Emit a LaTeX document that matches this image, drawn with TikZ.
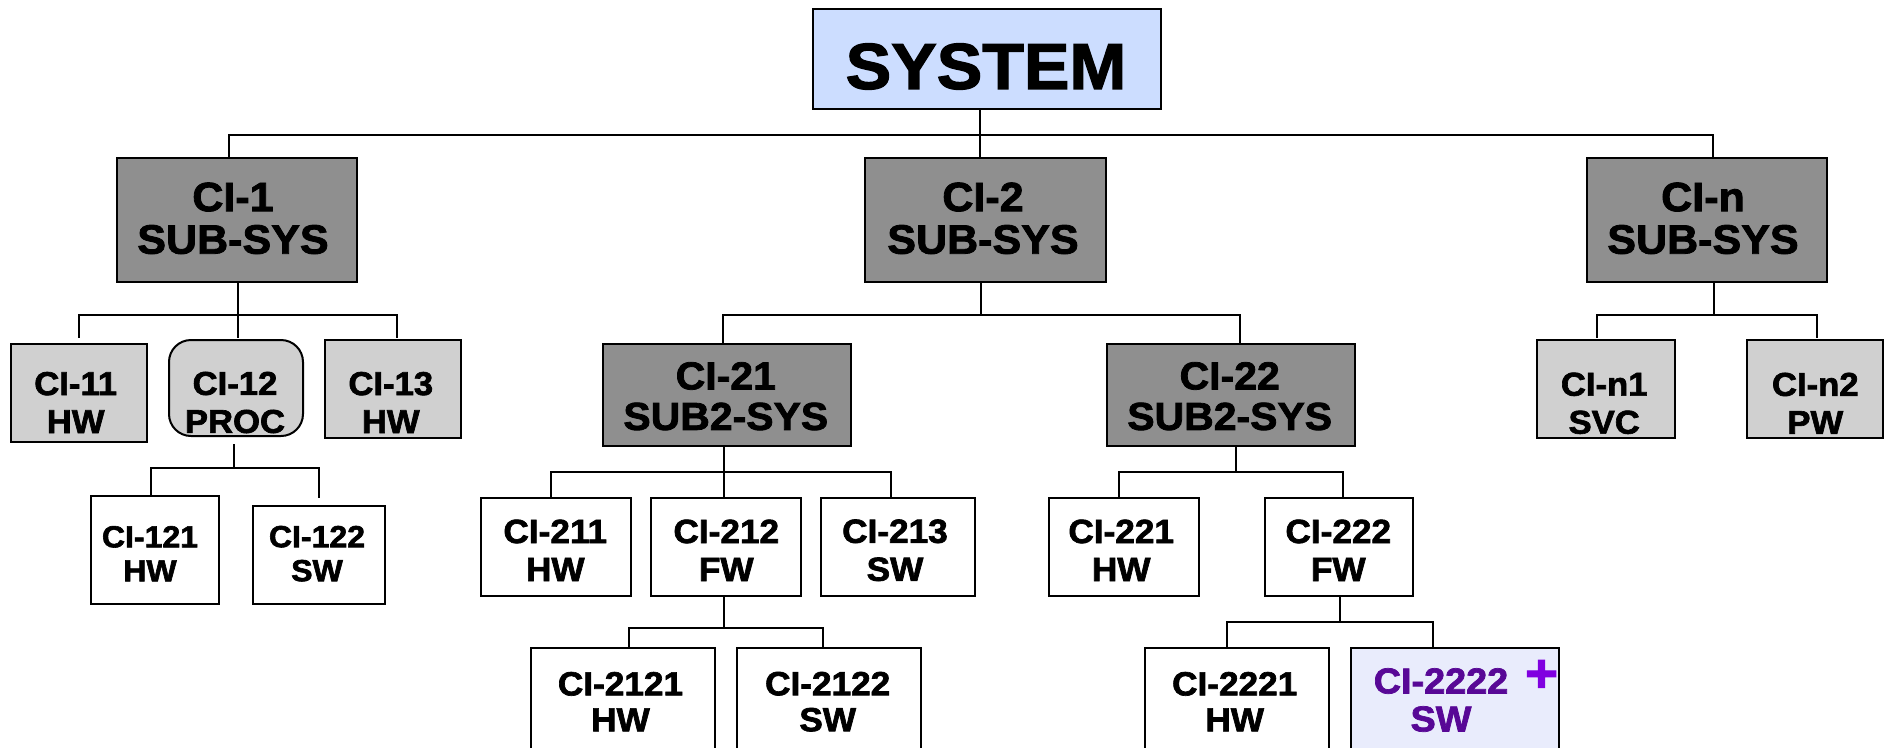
\documentclass[tikz,border=0pt]{standalone}
\usepackage{fontspec}
\setmainfont{Liberation Sans}[FakeStretch=1.05, BoldFeatures={FakeBold=2}]
\usetikzlibrary{calc}
\definecolor{sysblue}{RGB}{204,221,255}
\definecolor{darkbox}{RGB}{143,143,143}
\definecolor{lightbox}{RGB}{208,208,208}
\definecolor{lavbox}{RGB}{233,236,252}
\definecolor{purtext}{RGB}{88,8,150}
\definecolor{plusviolet}{RGB}{128,0,224}
\newcommand{\fSys}{\bfseries\fontsize{65}{70}\selectfont}
\newcommand{\fSub}{\bfseries\fontsize{41}{42.5}\selectfont}
\newcommand{\fSubT}{\bfseries\fontsize{39}{40.5}\selectfont}
\newcommand{\fLtwo}{\bfseries\fontsize{33}{38}\selectfont}
\newcommand{\fLthreeA}{\bfseries\fontsize{30.5}{34}\selectfont}
\newcommand{\fLthree}{\bfseries\fontsize{33.5}{38}\selectfont}
\newcommand{\fLfour}{\bfseries\fontsize{33.5}{36}\selectfont}
\newcommand{\fLfourP}{\bfseries\fontsize{36}{38}\selectfont}
\begin{document}
\begin{tikzpicture}[x=1pt,y=-1pt,
  box/.style={draw=black, line width=2pt, inner sep=0pt, outer sep=0pt, rectangle},
  sysbox/.style={box, fill=sysblue},
  darkb/.style={box, fill=darkbox},
  lightb/.style={box, fill=lightbox},
  whiteb/.style={box, fill=white},
  txt/.style={inner sep=0pt, outer sep=0pt, align=center, text=black},
  conn/.style={draw=black, line width=2pt}
]
\useasboundingbox (0,0) rectangle (1889,747);
\fill[white] (0,0) rectangle (1889,747);
\clip (0,0) rectangle (1889,747);

% ---- boxes ----
\node[sysbox, minimum width=348pt, minimum height=100pt] (sys) at (986.8,59.3) {};
\node[darkb, minimum width=240pt, minimum height=124pt] (ci1) at (236.8,219.7) {};
\node[darkb, minimum width=241pt, minimum height=124pt] (ci2) at (985.7,219.8) {};
\node[darkb, minimum width=240pt, minimum height=124pt] (cin) at (1706.8,219.8) {};

\node[lightb, minimum width=136pt, minimum height=98pt] (ci11) at (79,393) {};
\node[lightb, rounded corners=22pt, minimum width=134pt, minimum height=96pt] (ci12) at (236,388) {};
\node[lightb, minimum width=136pt, minimum height=97.5pt] (ci13) at (393.2,388.8) {};

\node[whiteb, minimum width=128pt, minimum height=108.5pt] (ci121) at (154.8,550) {};
\node[whiteb, minimum width=132.5pt, minimum height=98.5pt] (ci122) at (319,555) {};

\node[darkb, minimum width=248pt, minimum height=102pt] (ci21) at (726.8,395) {};
\node[darkb, minimum width=248pt, minimum height=102pt] (ci22) at (1230.8,395) {};

\node[whiteb, minimum width=150.5pt, minimum height=98.3pt] (ci211) at (556,546.8) {};
\node[whiteb, minimum width=150.5pt, minimum height=98.3pt] (ci212) at (726,546.8) {};
\node[whiteb, minimum width=153.5pt, minimum height=98.3pt] (ci213) at (897.8,546.8) {};
\node[whiteb, minimum width=150.3pt, minimum height=97.7pt] (ci221) at (1124.2,547.2) {};
\node[whiteb, minimum width=148.3pt, minimum height=97.7pt] (ci222) at (1339.2,547.2) {};

\node[whiteb, minimum width=183.7pt, minimum height=112pt] (ci2121) at (622.8,704) {};
\node[whiteb, minimum width=184.3pt, minimum height=112pt] (ci2122) at (828.8,704) {};
\node[whiteb, minimum width=184pt, minimum height=112pt] (ci2221) at (1237,704) {};
\node[box, fill=lavbox, minimum width=208.3pt, minimum height=112pt] (ci2222) at (1454.8,704) {};

\node[lightb, minimum width=138.3pt, minimum height=97.7pt] (cin1) at (1605.8,388.8) {};
\node[lightb, minimum width=136pt, minimum height=97.7pt] (cin2) at (1814.7,388.8) {};

% ---- texts ----
\node[txt, font=\fSys] (syst) at (986,66.5) {SYSTEM};
\node[txt, font=\fSub] (ci1t) at (233,218.3) {CI-1\\SUB-SYS};
\node[txt, font=\fSub] (ci2t) at (983,218.3) {CI-2\\SUB-SYS};
\node[txt, font=\fSub] (cint) at (1703,218.3) {CI-n\\SUB-SYS};

\node[txt, font=\fLtwo] (ci11t) at (75.7,402.5) {CI-11\\HW};
\node[txt, font=\fLtwo] (ci12t) at (235,402.5) {CI-12\\PROC};
\node[txt, font=\fLtwo] (ci13t) at (390.8,402.5) {CI-13\\HW};
\node[txt, font=\fLtwo] (cin1t) at (1604.2,403.3) {CI-n1\\SVC};
\node[txt, font=\fLtwo] (cin2t) at (1815.3,403.3) {CI-n2\\PW};

\node[txt, font=\fLthreeA] (ci121t) at (150,553.7) {CI-121\\HW};
\node[txt, font=\fLthreeA] (ci122t) at (317,553.7) {CI-122\\SW};

\node[txt, font=\fSubT] (ci21t) at (725.8,396.2) {CI-21\\SUB2-SYS};
\node[txt, font=\fSubT] (ci22t) at (1229.7,396.2) {CI-22\\SUB2-SYS};

\node[txt, font=\fLthree] (ci211t) at (555.3,550.3) {CI-211\\HW};
\node[txt, font=\fLthree] (ci212t) at (726.3,550.3) {CI-212\\FW};
\node[txt, font=\fLthree] (ci213t) at (895,550.3) {CI-213\\SW};
\node[txt, font=\fLthree] (ci221t) at (1121.2,550.3) {CI-221\\HW};
\node[txt, font=\fLthree] (ci222t) at (1338.3,550.3) {CI-222\\FW};

\node[txt, font=\fLfour] (ci2121t) at (620.5,701.7) {CI-2121\\HW};
\node[txt, font=\fLfour] (ci2122t) at (827.7,701.7) {CI-2122\\SW};
\node[txt, font=\fLfour] (ci2221t) at (1234.7,701.7) {CI-2221\\HW};
\node[txt, font=\fLfourP, text=purtext] (ci2222t) at (1441,700) {CI-2222\\SW};
\node[txt, font=\bfseries\fontsize{54}{54}\selectfont, text=plusviolet] (plus) at (1541.5,676) {+};

% ---- connectors ----
\draw[conn] ([xshift=-6.8pt]sys.south) -- ++(0,25.7) -| ([xshift=-7.8pt]ci1.north);
\draw[conn] ([xshift=-6.8pt]sys.south) -- ([xshift=-5.7pt]ci2.north);
\draw[conn] ([xshift=-6.8pt]sys.south) -- ++(0,25.7) -| ([xshift=6.2pt]cin.north);

\draw[conn] ([xshift=1pt]ci1.south) -- ++(0,33.3) -| ([yshift=6pt]ci11.north);
\draw[conn] ([xshift=1pt]ci1.south) -- ++(0,33.3) -| ([xshift=1.7pt,yshift=2pt]ci12.north);
\draw[conn] ([xshift=1pt]ci1.south) -- ++(0,33.3) -| ([xshift=3.5pt,yshift=2pt]ci13.north);

\draw[conn] ([xshift=-2.3pt,yshift=-8pt]ci12.south) -- ++(0,23.7) -| ([xshift=-3.8pt]ci121.north);
\draw[conn] ([xshift=-2.3pt,yshift=-8pt]ci12.south) -- ++(0,23.7) -| ([yshift=7.7pt]ci122.north);

\draw[conn] ([xshift=-5pt]ci2.south) -- ++(0,33) -| ([xshift=-3.5pt]ci21.north);
\draw[conn] ([xshift=-5pt]ci2.south) -- ++(0,33) -| ([xshift=9pt]ci22.north);

\draw[conn] ([xshift=-2.8pt]ci21.south) -- ++(0,26.3) -| ([xshift=-5.3pt]ci211.north);
\draw[conn] ([xshift=-2.8pt]ci21.south) -- ++(0,26.3) -| ([xshift=-2pt]ci212.north);
\draw[conn] ([xshift=-2.8pt]ci21.south) -- ++(0,26.3) -| ([xshift=-6.8pt]ci213.north);

\draw[conn] ([xshift=-2.3pt]ci212.south) -- ++(0,32.3) -| ([xshift=6.2pt]ci2121.north);
\draw[conn] ([xshift=-2.3pt]ci212.south) -- ++(0,32.3) -| ([xshift=-5.8pt]ci2122.north);

\draw[conn] ([xshift=5.2pt]ci22.south) -- ++(0,26.3) -| ([xshift=-5.2pt]ci221.north);
\draw[conn] ([xshift=5.2pt]ci22.south) -- ++(0,26.3) -| ([xshift=3.8pt]ci222.north);

\draw[conn] ([xshift=0.5pt]ci222.south) -- ++(0,25.7) -| ([xshift=-10pt]ci2221.north);
\draw[conn] ([xshift=0.5pt]ci222.south) -- ++(0,25.7) -| ([xshift=-21.8pt]ci2222.north);

\draw[conn] ([xshift=7pt]cin.south) -- ++(0,33) -| ([xshift=-9.1pt,yshift=2pt]cin1.north);
\draw[conn] ([xshift=7pt]cin.south) -- ++(0,33) -| ([xshift=2pt,yshift=2pt]cin2.north);
\end{tikzpicture}
\end{document}
